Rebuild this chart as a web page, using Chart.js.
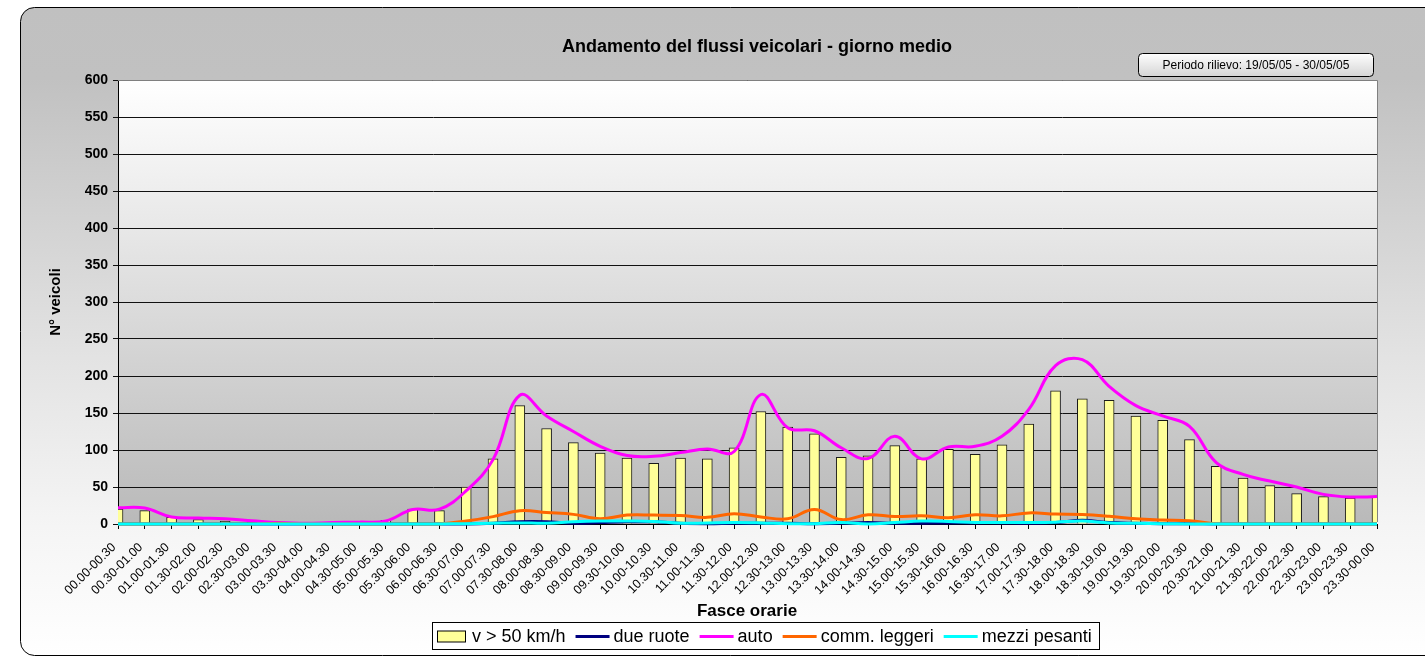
<!DOCTYPE html>
<html><head><meta charset="utf-8">
<script src="https://cdn.jsdelivr.net/npm/chart.js@4/dist/chart.umd.min.js"></script>
<style>html,body{margin:0;padding:0;background:#fff;overflow:hidden}#wrap{width:1425px;height:657px;position:relative}</style>
</head><body><div id="wrap"><canvas id="c" width="1425" height="657"></canvas></div>
<script>
const categories = ['00.00-00.30','00.30-01.00','01.00-01.30','01.30-02.00','02.00-02.30','02.30-03.00','03.00-03.30','03.30-04.00','04.00-04.30','04.30-05.00','05.00-05.30','05.30-06.00','06.00-06.30','06.30-07.00','07.00-07.30','07.30-08.00','08.00-08.30','08.30-09.00','09.00-09.30','09.30-10.00','10.00-10.30','10.30-11.00','11.00-11.30','11.30-12.00','12.00-12.30','12.30-13.00','13.00-13.30','13.30-14.00','14.00-14.30','14.30-15.00','15.00-15.30','15.30-16.00','16.00-16.30','16.30-17.00','17.00-17.30','17.30-18.00','18.00-18.30','18.30-19.00','19.00-19.30','19.30-20.00','20.00-20.30','20.30-21.00','21.00-21.30','21.30-22.00','22.00-22.30','22.30-23.00','23.00-23.30','23.30-00.00'];
const v50 = [20,18,9,6,4,2,1,1,1,1,5,20,18,50,88,160,129,110,96,89,82,89,88,103,152,131,122,90,92,106,88,101,94,107,135,180,169,167,146,140,114,78,62,52,41,37,35,37];
const dueRuote = [0,0,0,0,0,0,0,0,0,0,0,0,0,0,1,3,3,1,2,3,3,1,0.5,1,1,1,0.5,1,2,1,1,1.5,1.5,1.5,1,2,5,2,1,0.5,0.5,0,0,0,0,0,0,0];
const autoVals = [22,21.5,9.5,8,7,4.5,2,1,2,2.5,4,19.5,20,45,87,174,146,125,105,92.5,91.5,96.5,101.5,98,175,130,126,103,88.5,118.5,88,104,105,118.5,155,214,222,186,160,146,132,83,67,58,50,40,36.5,37];
const commLeggeri = [0,0,0,0,0,0,1,0,0,0,0,0,0,4,10,18,15.5,13,7,12,12,11.5,9,14,9.5,7,19.5,6,12.5,10,11,8.5,12.5,11,15,13.5,13,10.5,7,5.5,4.5,0.5,0,0,0,0,0,0];
const mezziPesanti = [0,0,0,0,0,0,0,0,0,0,0,0,0,0.5,1,1.5,1,3,4,4,3.5,1,1.5,2,1.5,0.5,0.5,2,0,2,4,3.5,2,2,2,2.5,4,1.5,1,0.5,0,0,0,0,0,0,0,0];
const yMin = 0, yMax = 600, yStep = 50;
const titleText = 'Andamento del flussi veicolari - giorno medio';
const periodText = 'Periodo rilievo: 19/05/05 - 30/05/05';
const xTitle = 'Fasce orarie';
const yTitle = 'N° veicoli';
const seriesNames = ['v > 50 km/h','due ruote','auto','comm. leggeri','mezzi pesanti'];

const FONT = '"Liberation Sans", Arial, Helvetica, sans-serif';

function roundRect(ctx, x, y, w, h, r) {
  ctx.beginPath();
  ctx.moveTo(x + r, y);
  ctx.lineTo(x + w - r, y);
  ctx.arcTo(x + w, y, x + w, y + r, r);
  ctx.lineTo(x + w, y + h - r);
  ctx.arcTo(x + w, y + h, x + w - r, y + h, r);
  ctx.lineTo(x + r, y + h);
  ctx.arcTo(x, y + h, x, y + h - r, r);
  ctx.lineTo(x, y + r);
  ctx.arcTo(x, y, x + r, y, r);
  ctx.closePath();
}

const decor = {
  id: 'decor',
  beforeDraw(chart) {
    const ctx = chart.ctx, a = chart.chartArea;
    ctx.save();
    ctx.fillStyle = '#ffffff';
    ctx.fillRect(0, 0, chart.width, chart.height);
    const g = ctx.createLinearGradient(0, 7, 0, 657);
    g.addColorStop(0, '#c0c0c0');
    g.addColorStop(0.11, '#c1c1c1');
    g.addColorStop(0.54, '#e3e3e3');
    g.addColorStop(0.8, '#f5f5f5');
    g.addColorStop(1, '#ffffff');
    roundRect(ctx, 20.5, 7.5, 1430, 648, 14);
    ctx.fillStyle = g;
    ctx.fill();
    ctx.strokeStyle = '#000';
    ctx.lineWidth = 1;
    ctx.stroke();
    const pg = ctx.createLinearGradient(0, a.top, 0, a.bottom);
    pg.addColorStop(0, '#ffffff');
    pg.addColorStop(1, '#b9b9b9');
    ctx.fillStyle = pg;
    ctx.fillRect(a.left, a.top, a.right - a.left, a.bottom - a.top);
    ctx.restore();
  },
  afterDraw(chart) {
    const ctx = chart.ctx, a = chart.chartArea;
    ctx.save();
    ctx.strokeStyle = '#808080';
    ctx.lineWidth = 1;
    ctx.beginPath();
    ctx.moveTo(a.left, a.top + 0.5); ctx.lineTo(a.right + 0.5, a.top + 0.5);
    ctx.lineTo(a.right + 0.5, a.bottom - 2);
    ctx.stroke();
    ctx.fillStyle = '#000';
    ctx.font = 'bold 18px ' + FONT;
    ctx.textAlign = 'center';
    ctx.textBaseline = 'middle';
    ctx.fillText(titleText, 757, 47);
    const pgb = ctx.createLinearGradient(0, 53, 0, 77);
    pgb.addColorStop(0, '#ffffff');
    pgb.addColorStop(1, '#d4d4d4');
    roundRect(ctx, 1138.5, 53.5, 235, 23, 4);
    ctx.fillStyle = pgb; ctx.fill();
    ctx.strokeStyle = '#000'; ctx.stroke();
    ctx.fillStyle = '#000';
    ctx.font = '12px ' + FONT;
    ctx.fillText(periodText, 1256, 65.5);
    ctx.font = 'bold 17px ' + FONT;
    ctx.fillText(xTitle, 747, 611);
    ctx.save();
    ctx.translate(56, 302);
    ctx.rotate(-Math.PI / 2);
    ctx.font = 'bold 15px ' + FONT;
    ctx.fillText(yTitle, 0, 0);
    ctx.restore();
    const lx0 = 432.5, ly0 = 622.5, lx1 = 1099.5, ly1 = 649.5;
    ctx.fillStyle = '#fff';
    ctx.fillRect(lx0, ly0, lx1 - lx0, ly1 - ly0);
    ctx.strokeStyle = '#000';
    ctx.strokeRect(lx0, ly0, lx1 - lx0, ly1 - ly0);
    ctx.font = '18px ' + FONT;
    ctx.textAlign = 'left';
    ctx.textBaseline = 'middle';
    const cy = 636.5;
    let x = 437;
    chart.data.datasets.forEach((ds) => {
      if (ds.type === 'bar') {
        ctx.fillStyle = ds.backgroundColor;
        ctx.fillRect(x + 0.5, cy - 5.5, 28, 11);
        ctx.strokeStyle = '#000';
        ctx.lineWidth = 1;
        ctx.strokeRect(x + 0.5, cy - 5.5, 28, 11);
        x += 35;
      } else {
        ctx.strokeStyle = ds.borderColor;
        ctx.lineWidth = 3;
        ctx.beginPath();
        ctx.moveTo(x, cy); ctx.lineTo(x + 34, cy);
        ctx.stroke();
        x += 38;
      }
      ctx.fillStyle = '#000';
      ctx.fillText(ds.label, x, cy + 1);
      x += ctx.measureText(ds.label).width + 10;
    });
    ctx.restore();
  }
};

const yTickValues = [];
for (let v = yMin; v <= yMax; v += yStep) yTickValues.push(v);

const lineBase = { type: 'line', pointRadius: 0, pointHoverRadius: 0, fill: false, tension: 0.4, borderWidth: 3, clip: false };

new Chart(document.getElementById('c'), {
  data: {
    labels: categories,
    datasets: [
      { type: 'bar', label: seriesNames[0], data: v50, backgroundColor: '#ffff99', borderColor: '#1a1a1a', borderWidth: 1, barThickness: 10, order: 10 },
      Object.assign({}, lineBase, { label: seriesNames[1], data: dueRuote, borderColor: '#000080', order: 4 }),
      Object.assign({}, lineBase, { label: seriesNames[2], data: autoVals, borderColor: '#ff00ff', order: 3 }),
      Object.assign({}, lineBase, { label: seriesNames[3], data: commLeggeri, borderColor: '#ff6600', order: 2 }),
      Object.assign({}, lineBase, { label: seriesNames[4], data: mezziPesanti, borderColor: '#00ffff', order: 1 })
    ]
  },
  options: {
    responsive: false,
    animation: false,
    devicePixelRatio: 1,
    layout: { padding: { left: 0, right: 48, top: 80, bottom: 0 } },
    plugins: { legend: { display: false }, title: { display: false }, tooltip: { enabled: false } },
    scales: {
      x: {
        type: 'category',
        offset: false,
        grid: { offset: false, drawOnChartArea: false, drawTicks: true, tickLength: 5, color: '#000' },
        border: { color: '#000', width: 1 },
        ticks: { autoSkip: false, maxRotation: 45, minRotation: 45, color: '#000', font: { family: FONT, size: 12.5 }, padding: 11, labelOffset: -4 },
        afterFit(s) { s.height = 133; }
      },
      y: {
        min: yMin, max: yMax,
        afterBuildTicks(s) { s.ticks = yTickValues.map(v => ({ value: v })); },
        grid: { color: '#111', lineWidth: 1, drawTicks: true, tickLength: 5 },
        border: { color: '#000', width: 1 },
        ticks: { color: '#000', font: { family: FONT, size: 14, weight: 'bold' }, padding: 5 },
        afterFit(s) { s.width = 118; }
      }
    }
  },
  plugins: [decor]
});
</script>
</body></html>
